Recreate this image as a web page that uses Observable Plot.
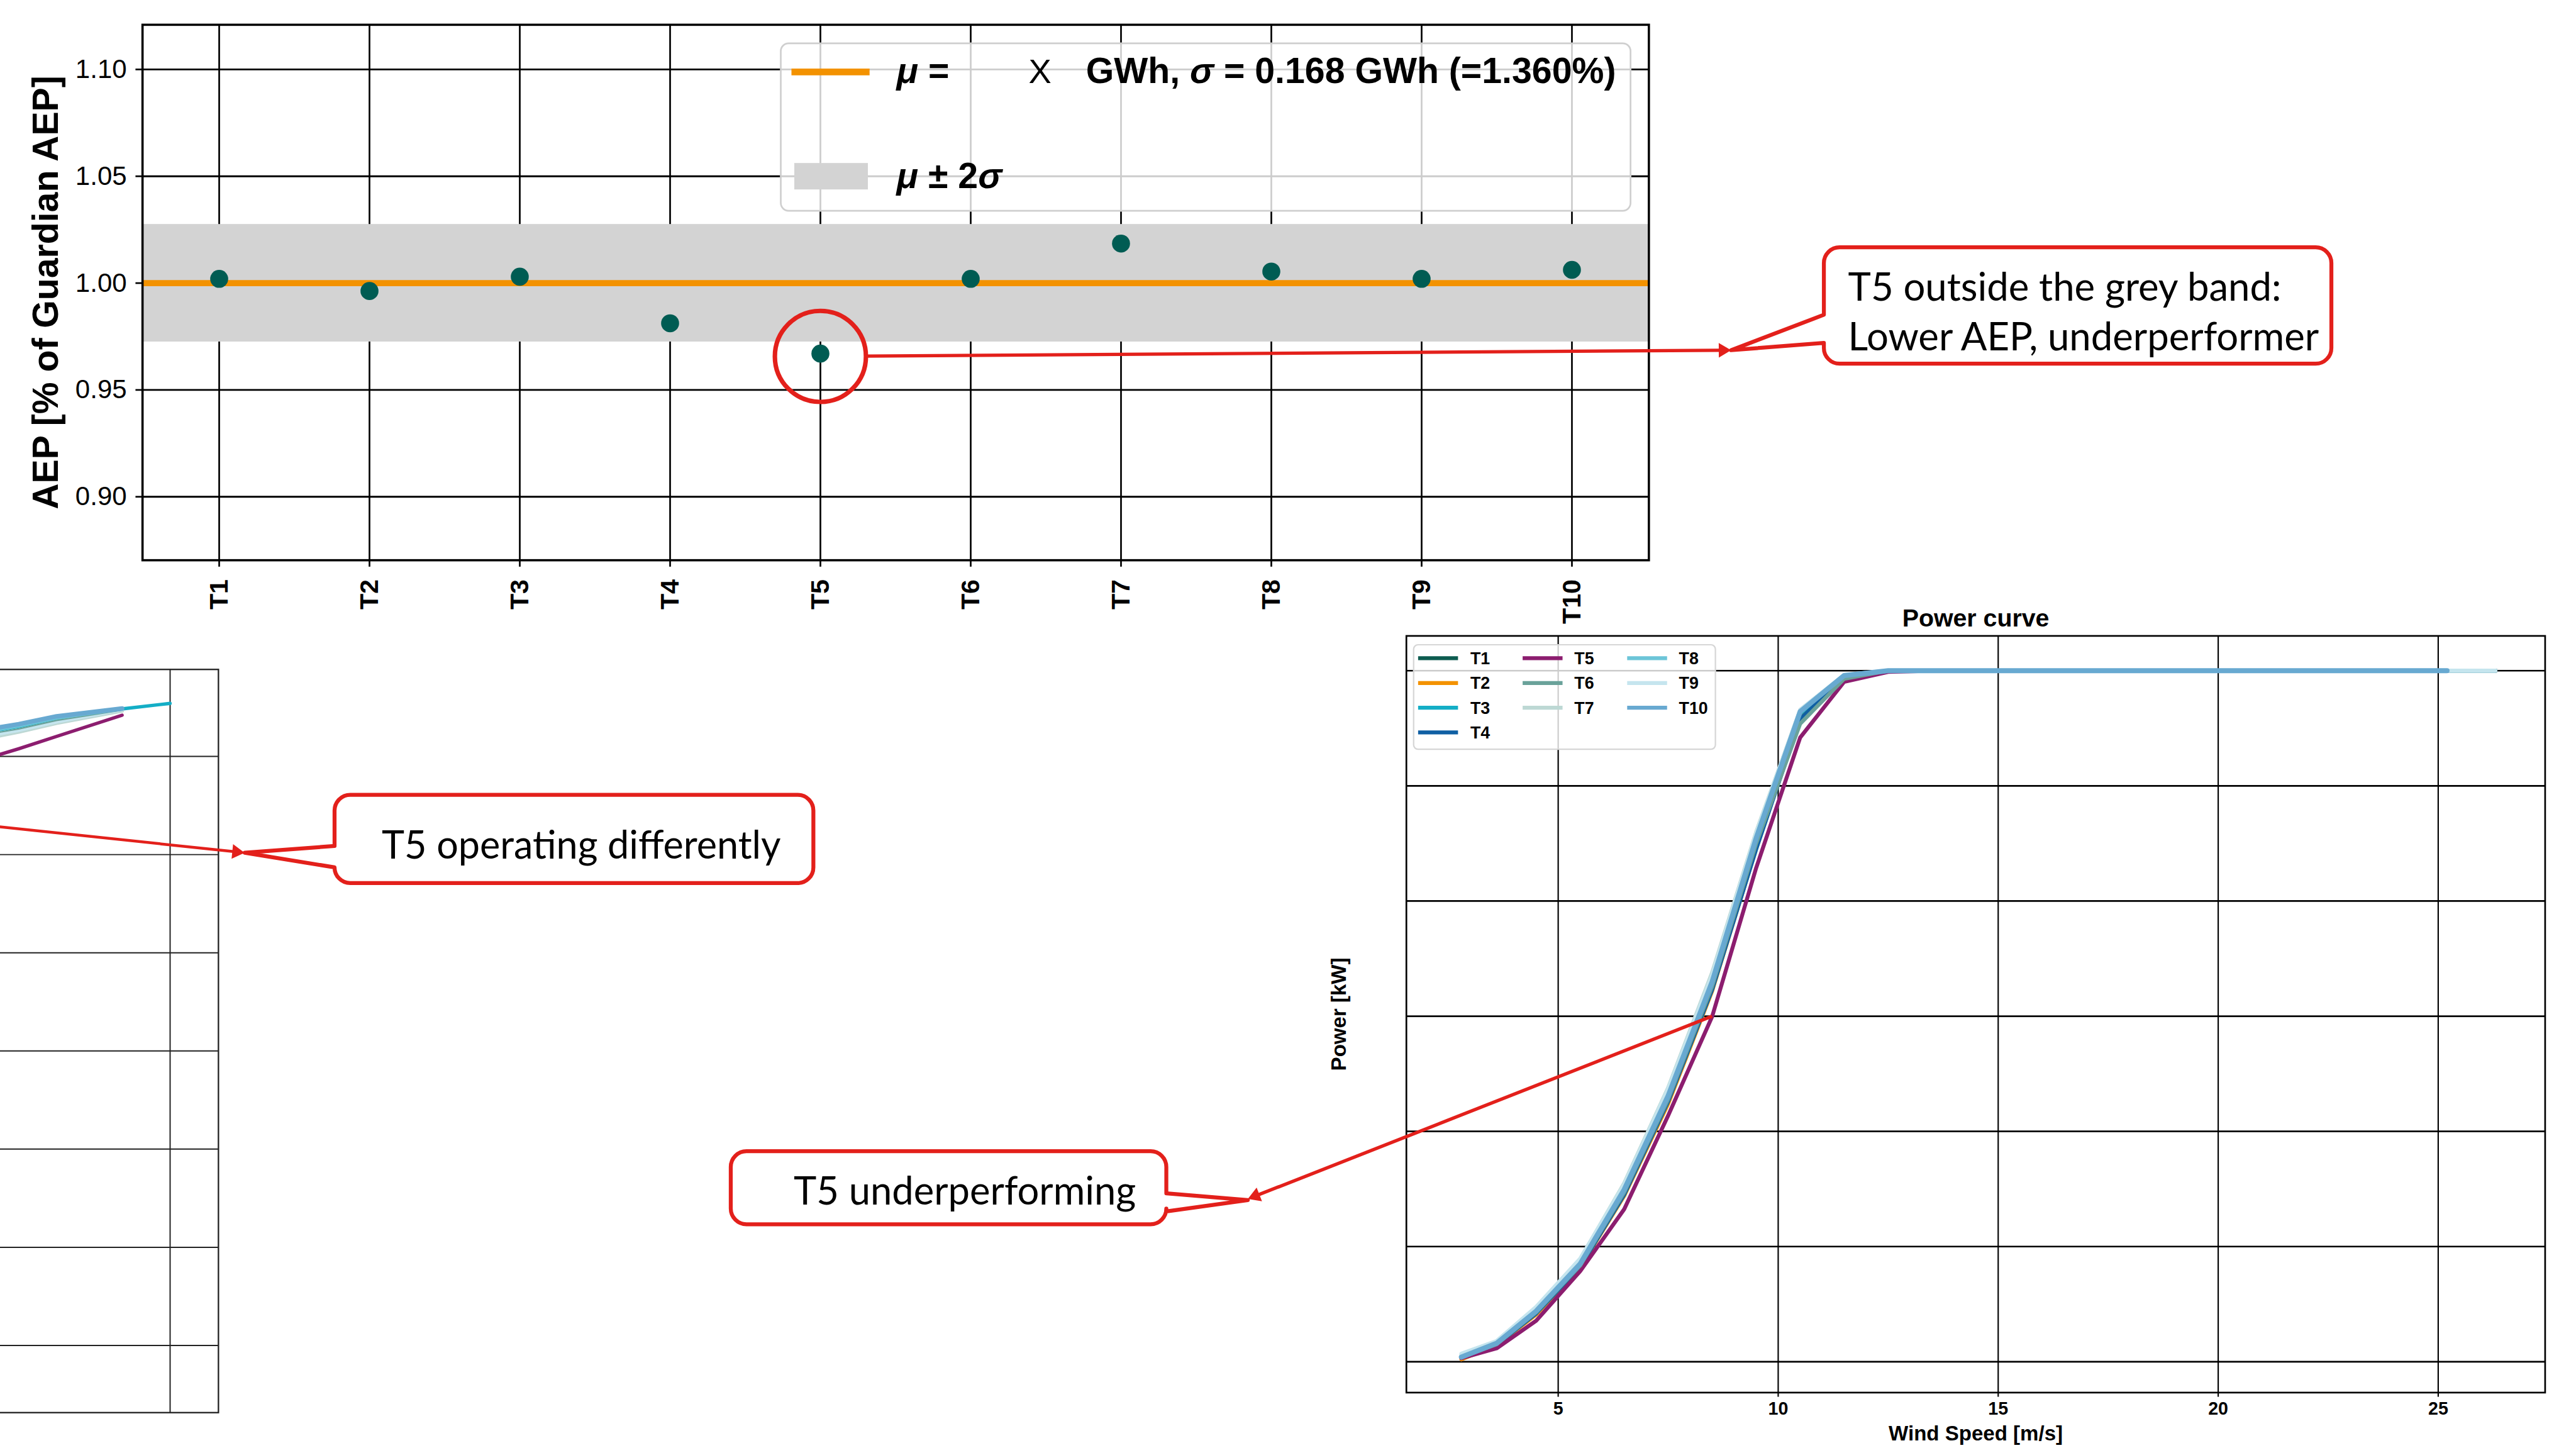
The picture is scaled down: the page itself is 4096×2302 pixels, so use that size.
<!DOCTYPE html>
<html><head><meta charset="utf-8">
<script src="https://cdn.jsdelivr.net/npm/d3@7"></script>
<script src="https://cdn.jsdelivr.net/npm/@observablehq/plot@0.6"></script>
<style>
html,body{margin:0;padding:0;background:#fff;}
#root{position:relative;width:4096px;height:2302px;overflow:hidden;background:#fff;}
#root > svg{position:absolute;overflow:visible;}
</style></head><body><div id="root"></div>
<script>
// ---------------- DATA ----------------
const turbines = ["T1","T2","T3","T4","T5","T6","T7","T8","T9","T10"];
const turbineColors = ["#0d5c50","#f39200","#14aec6","#0f5fa3","#8c1d6f","#6aa29a","#bdd8d4","#6cc5d8","#c5e5ee","#68a9d1"];

// AEP relative to Guardian AEP
const aepValues = [1.002, 0.9963, 1.003, 0.9812, 0.967, 1.002, 1.0185, 1.0054, 1.002, 1.0062];
const aepMean = 1.0;
const aepBandLow = 0.9725;
const aepBandHigh = 1.0275;
const aepTicks = [0.90, 0.95, 1.00, 1.05, 1.10];
const aepLegendMean = "GWh, σ = 0.168 GWh (=1.360%)";

// Power curve (kW) per wind-speed bin (m/s)
const windSpeed = [2.8,3.6,4.5,5.5,6.5,7.5,8.5,9.5,10.5,11.5,12.5,13.5,14.5,15.5,16.5,17.5,18.5,19.5,20.5,21.5,22.5,23.5,24.5,25.2,26.3];
const powerT1  = [18,75,212,415,730,1135,1625,2245,2805,2975,3000,3000,3000,3000,3000,3000,3000,3000,3000,3000,3000,3000,3000,3000,3000];
const powerT2  = [10,72,205,410,720,1120,1610,2230,2795,2972,3000,3000,3000,3000,3000,3000,3000,3000,3000,3000,3000,3000,3000,3000,3000];
const powerT3  = [20,78,218,422,742,1148,1640,2262,2815,2977,3000,3000,3000,3000,3000,3000,3000,3000,3000,3000,3000,3000,3000,3000,3000];
const powerT4  = [18,74,210,412,725,1130,1615,2225,2790,2970,3000,3000,3000,3000,3000,3000,3000,3000,3000,3000,3000,3000,3000,3000,3000];
const powerT5  = [15,58,178,393,662,1069,1499,2144,2710,2952,2995,3000,3000,3000,3000,3000,3000,3000,3000,3000,3000,3000,3000,3000,3000];
const powerT6  = [20,76,215,418,735,1140,1630,2250,2770,2965,3000,3000,3000,3000,3000,3000,3000,3000,3000,3000,3000,3000,3000,3000,3000];
const powerT7  = [30,88,235,445,775,1190,1690,2300,2830,2980,3000,3000,3000,3000,3000,3000,3000,3000,3000,3000,3000,3000,3000,3000,3000];
const powerT8  = [22,82,224,430,752,1160,1658,2280,2825,2980,3000,3000,3000,3000,3000,3000,3000,3000,3000,3000,3000,3000,3000,3000,3000];
const powerT9  = [35,90,238,448,770,1185,1680,2295,2830,2982,3000,3000,3000,3000,3000,3000,3000,3000,3000,3000,3000,3000,3000,3000,3000];
const powerT10 = [20,80,220,425,747,1155,1650,2273,2822,2979,3000,3000,3000,3000,3000,3000,3000,3000,3000,3000,3000,3000,3000,3000,null];
const powerSeries = [powerT1,powerT2,powerT3,powerT4,powerT5,powerT6,powerT7,powerT8,powerT9,powerT10];
const windTicks = [5,10,15,20,25];
const powerTicks = [0,500,1000,1500,2000,2500,3000];

// Left (cropped) chart: end of the upper curves
const leftSpeed  = [20.9, 21.56, 22.42, 23.91];
const leftSpeedT3 = [20.9, 21.56, 22.42, 23.91, 25.0];
const leftT3  = [3128, 3152, 3194, 3242, 3270];
const leftT5  = [2994, 3039, 3102, 3210];
const leftT6  = [3115, 3140, 3183, 3236];
const leftT7  = [3096, 3125, 3170, 3233];
const leftT8  = [3130, 3155, 3196, 3242];
const leftT9  = [3105, 3133, 3176, 3238];
const leftT10 = [3140, 3164, 3204, 3244];
const leftXTicks = [20, 25];

// ---------------- LAYOUT ----------------
const S = 4096/4583;
const FONT = "'Liberation Sans', Arial, Helvetica, sans-serif";
const CFONT = "Lato, 'Open Sans', sans-serif";
const RED = "#e3201b";
const root = document.getElementById("root");
function place(svg, left, top){ svg.style.left = (left*S)+"px"; svg.style.top = (top*S)+"px"; root.appendChild(svg); return svg; }

// ---------------- AEP chart ----------------
const aepRows = turbines.map((t,i)=>({turbine:t, aep:aepValues[i]}));
const aepChart = Plot.plot({
  width: 2950*S, height: 1110*S,
  marginLeft: 253*S, marginTop: 43.5*S, marginRight: 17*S, marginBottom: 114*S,
  style: {fontFamily: FONT, color: "#000", background: "transparent", overflow: "visible"},
  x: {type: "point", domain: turbines, padding: 0.5, axis: null},
  y: {domain: [0.8703, 1.1209], axis: null},
  marks: [
    Plot.gridX(turbines, {stroke: "#000", strokeOpacity: 1, strokeWidth: 3*S}),
    Plot.gridY(aepTicks, {stroke: "#000", strokeOpacity: 1, strokeWidth: 3.2*S}),
    Plot.rect([[aepBandLow, aepBandHigh]], {y1: d=>d[0], y2: d=>d[1], fill: "#d3d3d3"}),
    Plot.ruleY([aepMean], {stroke: "#f39200", strokeWidth: 11*S}),
    Plot.dot(aepRows, {x: "turbine", y: "aep", r: 16*S, fill: "#005c53"}),
    Plot.dot(aepRows.filter(d=>d.turbine==="T5"), {x: "turbine", y: "aep", dy: 5*S, r: 81*S, stroke: RED, strokeWidth: 8*S, fill: "none"}),
    Plot.frame({stroke: "#000", strokeWidth: 4*S}),
    Plot.axisY(aepTicks, {tickFormat: d3.format(".2f"), tickSize: 12*S, tickPadding: 16*S, fontSize: 47*S, strokeWidth: 3*S, label: null}),
    Plot.axisX(turbines, {tickRotate: -90, tickSize: 12*S, tickPadding: 22*S, fontSize: 46*S, fontWeight: "bold", strokeWidth: 3*S, label: null}),
    Plot.text(["AEP [% of Guardian AEP]"], {text: d=>d, frameAnchor: "left", textAnchor: "middle", lineAnchor: "middle", rotate: -90, dx: -(253-82)*S, fontSize: 64*S, fontWeight: "bold"})
  ]
});
place(aepChart, 0, 0);

// ---------------- Left cropped chart ----------------
const leftRows = [
  ...leftSpeedT3.map((x,i)=>({t:"T3", x, y:leftT3[i]})),
  ...leftSpeed.map((x,i)=>({t:"T5", x, y:leftT5[i]})),
  ...leftSpeed.map((x,i)=>({t:"T7", x, y:leftT7[i]})),
  ...leftSpeed.map((x,i)=>({t:"T9", x, y:leftT9[i]})),
  ...leftSpeed.map((x,i)=>({t:"T6", x, y:leftT6[i]})),
  ...leftSpeed.map((x,i)=>({t:"T8", x, y:leftT8[i]})),
  ...leftSpeed.map((x,i)=>({t:"T10", x, y:leftT10[i]}))
];
const leftOrder = ["T3","T5","T7","T9","T6","T8","T10"];
const leftWidths = {T3: 6, T5: 6, T7: 7, T9: 6, T6: 2.5, T8: 6, T10: 8};
const leftChart = Plot.plot({
  width: 548*S, height: 1390*S,
  marginLeft: 50*S, marginTop: 40*S, marginRight: 10*S, marginBottom: 28*S,
  style: {fontFamily: FONT, background: "transparent", overflow: "visible"},
  x: {domain: [19.866, 26.098], axis: null},
  y: {domain: [-342, 3443], axis: null},
  marks: [
    Plot.gridX(leftXTicks, {stroke: "#222", strokeOpacity: 1, strokeWidth: 2.2*S}),
    Plot.gridY(powerTicks, {stroke: "#222", strokeOpacity: 1, strokeWidth: 2.2*S}),
    ...leftOrder.map(t => Plot.line(leftRows.filter(d=>d.t===t), {x: "x", y: "y", stroke: turbineColors[turbines.indexOf(t)], strokeWidth: leftWidths[t]*S})),
    Plot.frame({stroke: "#222", strokeWidth: 2.6*S})
  ]
});
place(leftChart, -150, 1150);

// ---------------- Power curve chart ----------------
const pcRows = turbines.flatMap((t,i) => windSpeed.map((w,j)=>({turbine:t, ws:w, p:powerSeries[i][j]})).filter(d=>d.p!=null));
const pcChart = Plot.plot({
  width: (4583-2330)*S, height: (2576-1060)*S,
  marginLeft: 172*S, marginTop: 71*S, marginRight: 55*S, marginBottom: 99*S,
  style: {fontFamily: FONT, color: "#000", background: "transparent", overflow: "visible"},
  x: {domain: [1.55, 27.43], axis: null},
  y: {domain: [-134, 3151], axis: null},
  marks: [
    Plot.gridX(windTicks, {stroke: "#000", strokeOpacity: 1, strokeWidth: 2.4*S}),
    Plot.gridY(powerTicks, {stroke: "#000", strokeOpacity: 1, strokeWidth: 3*S}),
    ...turbines.map((t,i) => Plot.line(pcRows.filter(d=>d.turbine===t), {x: "ws", y: "p", stroke: turbineColors[i], strokeWidth: (t==="T10" ? 9 : 7)*S})),
    Plot.frame({stroke: "#000", strokeWidth: 3*S}),
    Plot.axisX(windTicks, {tickSize: 8*S, tickPadding: 8*S, fontSize: 32*S, fontWeight: "bold", strokeWidth: 2.4*S, label: null}),
    Plot.text(["Power curve"], {text: d=>d, frameAnchor: "top", lineAnchor: "middle", dy: -(1131-1100)*S, fontSize: 44*S, fontWeight: "bold"}),
    Plot.text(["Wind Speed [m/s]"], {text: d=>d, frameAnchor: "bottom", lineAnchor: "middle", dy: (2550-2477)*S, fontSize: 37*S, fontWeight: "bold"}),
    Plot.text(["Power [kW]"], {text: d=>d, frameAnchor: "left", textAnchor: "middle", lineAnchor: "middle", rotate: -90, dx: -(2502-2383)*S, fontSize: 37*S, fontWeight: "bold"})
  ]
});
place(pcChart, 2330, 1060);

// ---------------- Overlay: legends & callouts (reference px units) ----------------
const ov = d3.create("svg").attr("width", 4096).attr("height", 2302).attr("viewBox", "0 0 4583 2576")
  .style("left","0px").style("top","0px");
root.appendChild(ov.node());

// AEP legend
const lg = ov.append("g");
lg.append("rect").attr("x",1389).attr("y",77).attr("width",1512).attr("height",298).attr("rx",14)
  .attr("fill","#fff").attr("fill-opacity",0.8).attr("stroke","#cfcfcf").attr("stroke-width",3);
lg.append("line").attr("x1",1408).attr("x2",1547).attr("y1",128).attr("y2",128).attr("stroke","#f39200").attr("stroke-width",12);
lg.append("rect").attr("x",1413).attr("y",290).attr("width",131).attr("height",47).attr("fill","#d3d3d3");
const legFS = 60;
const t1 = lg.append("text").attr("x",1595).attr("y",148).attr("font-family",FONT).attr("font-weight","bold").attr("font-size",legFS);
t1.append("tspan").attr("font-style","italic").text("μ");
t1.append("tspan").text(" =");
const tX = lg.append("text").attr("x",1830).attr("y",148).attr("font-family",FONT).attr("font-size",legFS*0.95).text("X");
const t2 = lg.append("text").attr("x",1932).attr("y",148).attr("font-family",FONT).attr("font-weight","bold").attr("font-size",legFS);
const parts = aepLegendMean.split("σ");
t2.append("tspan").text(parts[0]);
t2.append("tspan").attr("font-style","italic").text("σ");
t2.append("tspan").text(parts[1]);
const t3 = lg.append("text").attr("x",1595).attr("y",335).attr("font-family",FONT).attr("font-weight","bold").attr("font-size",legFS);
t3.append("tspan").attr("font-style","italic").text("μ");
t3.append("tspan").text(" ± 2");
t3.append("tspan").attr("font-style","italic").text("σ");
{ const w = t2.node().getComputedTextLength(); const f = legFS*943/w;
  [t1,t2,t3].forEach(t=>t.attr("font-size",f)); tX.attr("font-size",f*0.95); }

// Power curve legend
const pl = ov.append("g");
pl.append("rect").attr("x",2515).attr("y",1147).attr("width",537).attr("height",186).attr("rx",8)
  .attr("fill","#fff").attr("fill-opacity",0.8).attr("stroke","#d6d6d6").attr("stroke-width",2.5);
const colSw = [2523, 2709, 2895], colTx = [2616, 2801, 2987], rowY = [1171, 1215, 1259, 1303];
const legendLayout = [[0,0],[0,1],[0,2],[0,3],[1,0],[1,1],[1,2],[2,0],[2,1],[2,2]];
turbines.forEach((t,i)=>{
  const [c,r] = legendLayout[i];
  pl.append("line").attr("x1",colSw[c]).attr("x2",colSw[c]+71).attr("y1",rowY[r]).attr("y2",rowY[r]).attr("stroke",turbineColors[i]).attr("stroke-width",7);
  pl.append("text").attr("x",colTx[c]).attr("y",rowY[r]).attr("dy","0.36em").attr("font-family",FONT).attr("font-weight","bold").attr("font-size",30).text(t);
});

// Callouts
function calloutPath(b, side, w1, w2, tip){
  const {L,T,R,B} = b, r = 28;
  const arc = (x,y) => `A${r},${r} 0 0 1 ${x},${y}`;
  if (side === "left")
    return `M${L+r},${T}H${R-r}${arc(R,T+r)}V${B-r}${arc(R-r,B)}H${L+r}${arc(L,B-r)}V${w2}L${tip[0]},${tip[1]}L${L},${w1}V${T+r}${arc(L+r,T)}Z`;
  return `M${L+r},${T}H${R-r}${arc(R,T+r)}V${w1}L${tip[0]},${tip[1]}L${R},${w2}V${B-r}${arc(R-r,B)}H${L+r}${arc(L,B-r)}V${T+r}${arc(L+r,T)}Z`;
}
function arrow(p0, tip, sw){
  const dx = tip[0]-p0[0], dy = tip[1]-p0[1], len = Math.hypot(dx,dy), ux = dx/len, uy = dy/len;
  const hl = 22, hw = 13, bx = tip[0]-ux*hl, by = tip[1]-uy*hl;
  ov.append("line").attr("x1",p0[0]).attr("y1",p0[1]).attr("x2",bx+ux*2).attr("y2",by+uy*2).attr("stroke",RED).attr("stroke-width",sw);
  ov.append("path").attr("d",`M${tip[0]},${tip[1]}L${bx-uy*hw},${by+ux*hw}L${bx+uy*hw},${by-ux*hw}Z`).attr("fill",RED);
}
function callout(box, side, w1, w2, tip, lines, targetW){
  ov.append("path").attr("d", calloutPath(box, side, w1, w2, tip)).attr("fill","#fff").attr("stroke",RED).attr("stroke-width",7).attr("stroke-linejoin","round");
  const texts = lines.map(l => ov.append("text").attr("x",l.x).attr("y",l.y).attr("font-family",CFONT).attr("font-size",66).attr("fill","#000").text(l.text));
  const w = texts[texts.length-1].node().getComputedTextLength();
  const f = 66*targetW/w; texts.forEach(t=>t.attr("font-size",f));
}

// Anchors from the charts' own scales
const ax = aepChart.scale("x").apply("T5")/S, ay = aepChart.scale("y").apply(aepValues[4])/S;
arrow([ax+81, ay+5], [3080,623], 6);
callout({L:3245,T:440,R:4148,B:647}, "left", 560, 610, [3080,623],
  [{x:3288, y:535, text:"T5 outside the grey band:"}, {x:3288, y:623, text:"Lower AEP, underperformer"}], 838);

arrow([-20,1469], [435,1517], 5);
callout({L:595,T:1414,R:1447,B:1571}, "left", 1505, 1543, [435,1517],
  [{x:679, y:1528, text:"T5 operating differently"}], 710);

const px = 2330 + pcChart.scale("x").apply(windSpeed[6])/S, py = 1060 + pcChart.scale("y").apply(powerT5[6])/S;
arrow([px, py], [2220,2133], 6);
callout({L:1300,T:2048,R:2075,B:2178}, "right", 2123, 2155, [2220,2135],
  [{x:1412, y:2143, text:"T5 underperforming"}], 609);
</script></body></html>
